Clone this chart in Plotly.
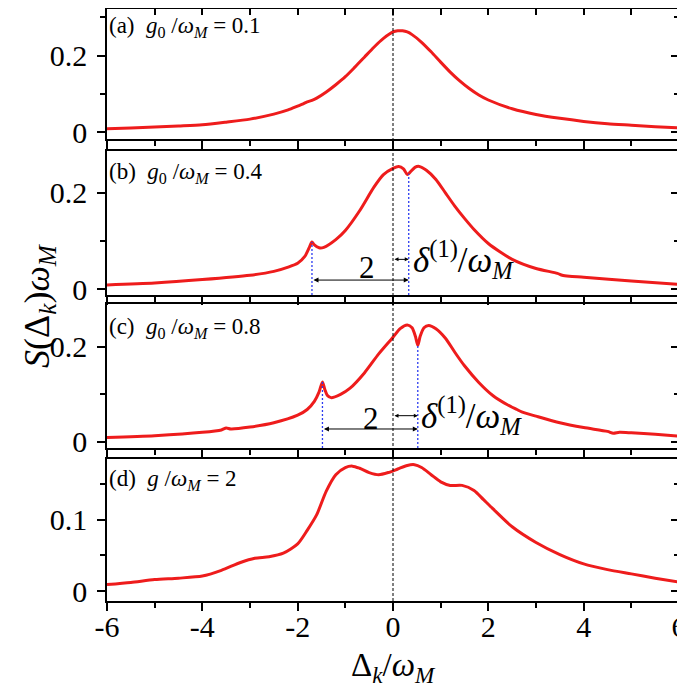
import plotly.graph_objects as go
from plotly.subplots import make_subplots

# ---------------- data ----------------
xa = [-6, -5.5, -5, -4.5, -4, -3.5, -3, -2.5, -2.2, -2.0, -1.9, -1.8, -1.7, -1.6, -1.4, -1.2, -1.0,
      -0.8, -0.6, -0.4, -0.2, 0, 0.1, 0.2, 0.3, 0.4, 0.6, 0.8, 1.0, 1.2, 1.4, 1.6, 1.8, 2.0, 2.5,
      3.0, 3.5, 4, 4.5, 5, 5.5, 6]
ya = [0.009, 0.011, 0.0135, 0.016, 0.019, 0.026, 0.034, 0.047, 0.058, 0.068, 0.073, 0.079, 0.083,
      0.089, 0.105, 0.124, 0.145, 0.17, 0.196, 0.222, 0.245, 0.262, 0.265, 0.265, 0.262, 0.255,
      0.235, 0.21, 0.183, 0.157, 0.134, 0.114, 0.097, 0.084, 0.061, 0.046, 0.036, 0.028, 0.022,
      0.018, 0.014, 0.011]

xb = [-6, -5, -4, -3, -2.5, -2.2, -2.0, -1.85, -1.75, -1.7, -1.65, -1.55, -1.45, -1.2, -1.0, -0.7,
      -0.4, -0.2, 0, 0.12, 0.22, 0.3, 0.36, 0.46, 0.55, 0.7, 0.9, 1.1, 1.3, 1.5, 1.7, 2.0, 2.5, 3.0,
      3.45, 3.55, 3.7, 4.0, 5, 6]
yb = [0.009, 0.013, 0.02, 0.029, 0.037, 0.046, 0.054, 0.068, 0.088, 0.098, 0.092, 0.086, 0.087,
      0.103, 0.122, 0.163, 0.212, 0.238, 0.251, 0.255, 0.25, 0.238, 0.243, 0.253, 0.255, 0.247,
      0.228, 0.2, 0.172, 0.147, 0.124, 0.095, 0.062, 0.043, 0.033, 0.029, 0.027, 0.025, 0.017, 0.010]

xc = [-6, -5, -4, -3.6, -3.5, -3.4, -3, -2.5, -2.0, -1.8, -1.65, -1.55, -1.48, -1.43, -1.38, -1.3,
      -1.1, -0.9, -0.6, -0.3, 0, 0.15, 0.3, 0.4, 0.47, 0.52, 0.57, 0.65, 0.75, 0.9, 1.1, 1.3, 1.5,
      1.8, 2.1, 2.4, 2.6, 2.7, 3.0, 3.5, 4.0, 4.5, 4.62, 4.75, 5, 5.5, 6]
yc = [0.009, 0.013, 0.02, 0.025, 0.029, 0.027, 0.031, 0.04, 0.056, 0.068, 0.085, 0.105, 0.126,
      0.11, 0.098, 0.093, 0.1, 0.113, 0.145, 0.185, 0.22, 0.238, 0.246, 0.24, 0.222, 0.203, 0.222,
      0.24, 0.245, 0.238, 0.218, 0.188, 0.16, 0.125, 0.097, 0.078, 0.068, 0.063, 0.054, 0.04,
      0.03, 0.022, 0.018, 0.02, 0.019, 0.016, 0.012]

xd = [-6, -5.5, -5, -4.5, -4, -3.6, -3.2, -2.9, -2.6, -2.3, -2.0, -1.8, -1.6, -1.4, -1.2, -1.0,
      -0.85, -0.7, -0.5, -0.3, -0.1, 0.1, 0.3, 0.45, 0.6, 0.8, 1.0, 1.2, 1.45, 1.7, 1.9, 2.1, 2.5,
      3.0, 3.5, 4.0, 4.5, 5, 5.5, 6]
yd = [0.009, 0.012, 0.016, 0.018, 0.021, 0.029, 0.04, 0.046, 0.048, 0.053, 0.066, 0.085, 0.107,
      0.14, 0.163, 0.173, 0.175, 0.172, 0.166, 0.163, 0.166, 0.171, 0.176, 0.177, 0.173, 0.163,
      0.153, 0.148, 0.148, 0.141, 0.128, 0.115, 0.09, 0.068, 0.051, 0.038, 0.03, 0.024, 0.018,
      0.0125]

xs = [xa, xb, xc, xd]
ys = [ya, yb, yc, yd]
panel_labels = ["(a)  <i>g</i><sub>0</sub> /<i>ω<sub>M</sub></i> = 0.1",
                "(b)  <i>g</i><sub>0</sub> /<i>ω<sub>M</sub></i> = 0.4",
                "(c)  <i>g</i><sub>0</sub> /<i>ω<sub>M</sub></i> = 0.8",
                "(d)  <i>g</i> /<i>ω<sub>M</sub></i> = 2"]
y_ranges = [[-0.018, 0.322], [-0.012, 0.287], [-0.013, 0.29], [-0.014, 0.185]]
y_major = [0.2, 0.2, 0.2, 0.1]
y_minor = [0.1, 0.1, 0.1, 0.05]
x_ticks = [-6, -4, -2, 0, 2, 4, 6]
x_ticktext = ["-6", "-4", "-2", "0", "2", "4", "6"]

# resonance markers
res_panels = [2, 3]
res_left_x = [-1.7, -1.48]
res_left_y = [0.098, 0.126]
res_right_x = [0.33, 0.52]
res_right_y = [0.240, 0.203]
long_arrow_y = [0.019, 0.027]
short_arrow_y = [0.062, 0.055]
label2_pos = [(-0.55, 0.045), (-0.46, 0.05)]
delta_pos = [(0.38, 0.062), (0.55, 0.055)]

RED = "#ee1c1c"
FONT = "Liberation Serif, Times New Roman, serif"

fig = make_subplots(rows=4, cols=1, shared_xaxes=True, vertical_spacing=0.015)

for i in range(4):
    fig.add_trace(go.Scatter(x=xs[i], y=ys[i], mode="lines",
                             line=dict(color=RED, width=3, shape="spline", smoothing=0.7),
                             showlegend=False, hoverinfo="skip"), row=i + 1, col=1)

top_px, bot_px = 1, 593
panel_px = [(1, 131), (143, 287), (296, 440), (451, 593)]
label_drop = [2, 6, 8, 5]
def dom(p):
    a, b = p
    return [(bot_px - b) / (bot_px - top_px), (bot_px - a) / (bot_px - top_px)]

for i in range(4):
    ax = "yaxis" if i == 0 else f"yaxis{i+1}"
    fig.layout[ax].update(
        domain=dom(panel_px[i]), range=y_ranges[i], dtick=y_major[i], tick0=0,
        ticks="outside", ticklen=8, tickwidth=1.5, tickcolor="black", automargin=False,
        showline=True, linecolor="black", linewidth=1.5, showgrid=False, zeroline=False,
        ticklabelstandoff=4,
        tickfont=dict(family=FONT, size=30, color="black"),
        minor=dict(dtick=y_minor[i], tick0=0, ticks="outside", ticklen=5, tickwidth=1.5,
                   tickcolor="black", showgrid=False),
        tickformat="~g")
    xa_name = "xaxis" if i == 0 else f"xaxis{i+1}"
    fig.layout[xa_name].update(
        range=[-6, 6], tickvals=x_ticks, ticktext=x_ticktext, ticks="outside", ticklen=8,
        tickwidth=1.5, tickcolor="black", showline=True, linecolor="black", linewidth=1.5,
        mirror=True, showgrid=False, zeroline=False, automargin=False,
        ticklabeloverflow="allow", ticklabelstandoff=-10,
        showticklabels=(i == 3),
        tickfont=dict(family=FONT, size=30, color="black"),
        minor=dict(dtick=1, tick0=0, ticks="outside", ticklen=5, tickwidth=1.5,
                   tickcolor="black", showgrid=False))
    n = 5 + i
    fig.layout[f"yaxis{n}"] = dict(
        overlaying="y" if i == 0 else f"y{i+1}", anchor="x" if i == 0 else f"x{i+1}",
        side="right", range=y_ranges[i], dtick=y_major[i], tick0=0, ticks="inside",
        ticklen=8, tickwidth=1.5, tickcolor="black", showticklabels=False, showline=True,
        linecolor="black", linewidth=1.5, showgrid=False, zeroline=False, automargin=False,
        minor=dict(dtick=y_minor[i], tick0=0, ticks="inside", ticklen=5, tickwidth=1.5,
                   tickcolor="black"))
    fig.add_trace(go.Scatter(x=[None], y=[None], xaxis="x" if i == 0 else f"x{i+1}",
                             yaxis=f"y{n}", showlegend=False, hoverinfo="skip"))
    fig.add_annotation(text=panel_labels[i], xref="paper", yref="paper",
                       x=0.0, y=dom(panel_px[i])[1] - label_drop[i] / 592,
                       xanchor="left", yanchor="top",
                       showarrow=False, font=dict(family=FONT, size=23, color="black"))

fig.layout["xaxis5"] = dict(overlaying="x", anchor="y", side="top", range=[-6, 6],
                            tickvals=list(range(-6, 7)), ticks="inside", ticklen=6,
                            tickwidth=1.5, tickcolor="black", showticklabels=False,
                            showgrid=False, zeroline=False, automargin=False)
fig.add_trace(go.Scatter(x=[None], y=[None], xaxis="x5", yaxis="y", showlegend=False,
                         hoverinfo="skip"))

fig.add_shape(type="line", xref="x4", yref="paper", x0=0, x1=0, y0=0, y1=1,
              line=dict(color="black", width=1, dash="3px,2px"))

for k, p in enumerate(res_panels):
    xr, yr = f"x{p}", f"y{p}"
    ybot = y_ranges[p - 1][0]
    for xv, yv in [(res_left_x[k], res_left_y[k]), (res_right_x[k], res_right_y[k])]:
        fig.add_shape(type="line", xref=xr, yref=yr, x0=xv, x1=xv, y0=ybot, y1=yv,
                      line=dict(color="#2b3bf0", width=1.3, dash="2px,2px"))
    fig.add_annotation(x=res_right_x[k], y=long_arrow_y[k], ax=res_left_x[k], ay=long_arrow_y[k],
                       xref=xr, yref=yr, axref=xr, ayref=yr, text="", showarrow=True,
                       arrowhead=2, startarrowhead=2, arrowside="end+start", arrowsize=1,
                       arrowwidth=1, arrowcolor="black", standoff=0, startstandoff=0)
    fig.add_annotation(x=res_right_x[k], y=short_arrow_y[k], ax=0, ay=short_arrow_y[k],
                       xref=xr, yref=yr, axref=xr, ayref=yr, text="", showarrow=True,
                       arrowhead=2, startarrowhead=2, arrowside="end+start", arrowsize=0.8,
                       arrowwidth=1, arrowcolor="black", standoff=0, startstandoff=0)
    fig.add_annotation(x=label2_pos[k][0], y=label2_pos[k][1], xref=xr, yref=yr, text="2",
                       showarrow=False, font=dict(family=FONT, size=31, color="black"))
    fig.add_annotation(x=delta_pos[k][0], y=delta_pos[k][1], xref=xr, yref=yr,
                       text="<i>δ</i><sup>(1)</sup>/<i>ω<sub>M</sub></i>", xanchor="left",
                       showarrow=False, font=dict(family=FONT, size=35, color="black"))

fig.add_annotation(text="<i>S</i>(Δ<sub><i>k</i></sub>)<i>ω<sub>M</sub></i>", xref="paper",
                   yref="paper", x=-0.119, y=0.5, xanchor="center", yanchor="middle",
                   textangle=-90, showarrow=False,
                   font=dict(family=FONT, size=36, color="black"))
fig.add_annotation(text="Δ<sub><i>k</i></sub>/<i>ω<sub>M</sub></i>", xref="paper", yref="paper",
                   x=0.5, y=-0.113, xanchor="center", yanchor="middle", showarrow=False,
                   font=dict(family=FONT, size=33, color="black"))

fig.update_layout(width=685, height=689, plot_bgcolor="white", paper_bgcolor="white",
                  margin=dict(l=99, r=14, t=1, b=689 - 593, autoexpand=False),
                  showlegend=False)

fig.write_html("out.html")
